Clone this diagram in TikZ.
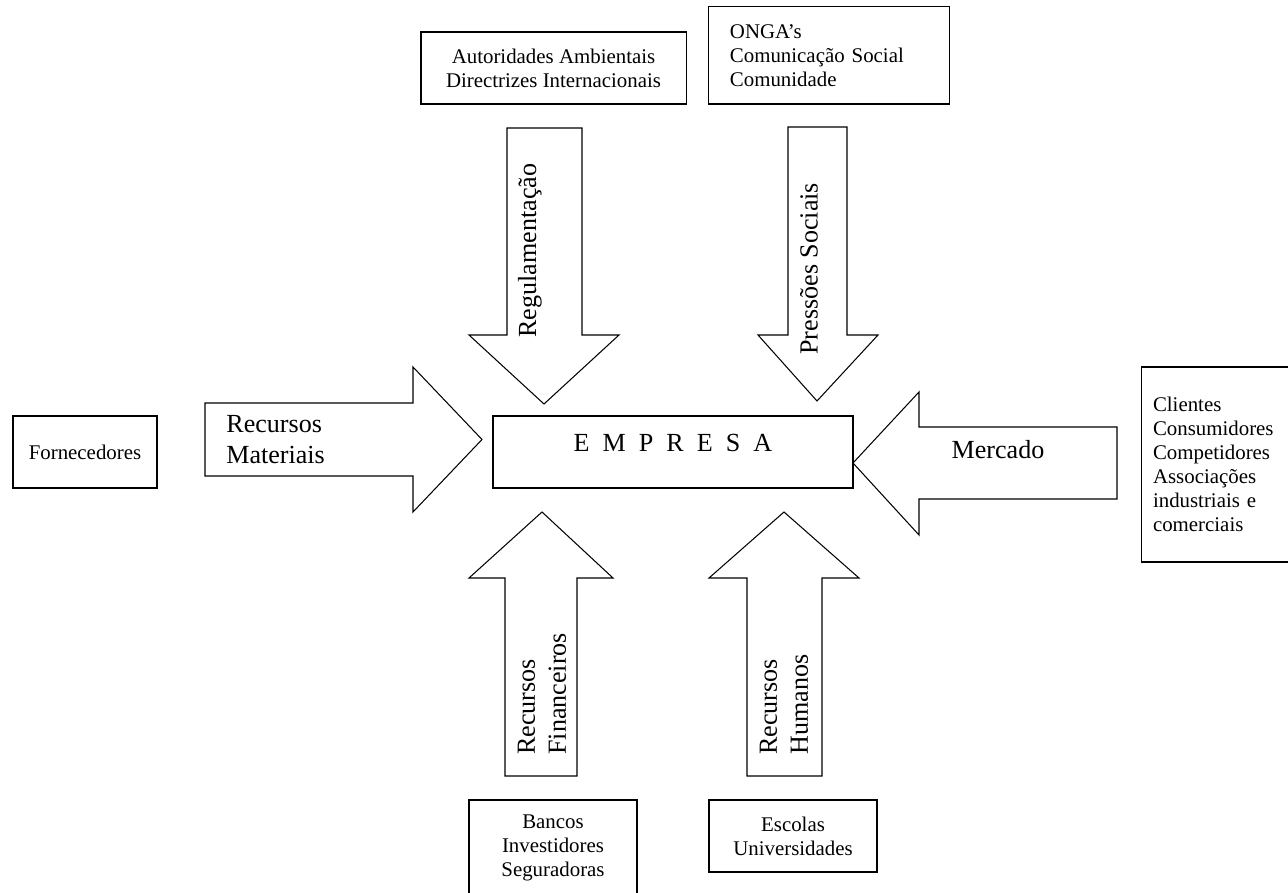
\documentclass[tikz,border=0pt]{standalone}
\usepackage{fontspec}
\setmainfont{Liberation Serif}
\begin{document}
\begin{tikzpicture}[x=0.575pt, y=-0.575pt,
    box/.style={draw, line width=0.6pt, inner sep=0pt, align=center, font=\fontsize{12}{13.8}\selectfont},
    bigarrow/.style={draw, line width=0.6pt, line join=miter},
    lbl/.style={inner sep=0pt, align=left, font=\fontsize{15}{17.8}\selectfont}]
    \useasboundingbox (0,0) rectangle (1288,893);

    % boxes
    \node[box, minimum width=82.8pt, minimum height=41.4pt] (forn) at (85,452) {Fornecedores};
    \node[box, minimum width=152.4pt, minimum height=41.4pt] (autor) at (553.5,68) {Autoridades Ambientais\\Directrizes Internacionais};
    \node[box, minimum width=138pt, minimum height=55.8pt, text width=113.9pt, inner xsep=12.1pt, align=left] (onga) at (829,55.5) {ONGA’s\\Comunicação Social\\Comunidade};
    \node[box, minimum width=88.6pt, minimum height=112.1pt, text width=75.9pt, inner xsep=6.3pt, align=left] (clientes) at (1219,464.5) {Clientes\\Consumidores\\Competidores\\Associações\\industriais e\\comerciais};
    \node[box, minimum width=96.6pt, minimum height=55.2pt] (bancos) at (553,848) {Bancos\\Investidores\\Seguradoras};
    \node[box, minimum width=96.6pt, minimum height=41.4pt] (escolas) at (793,836) {Escolas\\Universidades};

    % empresa
    \node[box, minimum width=207pt, minimum height=41.4pt] (empresa) at (673,452) {};
    \node[lbl] (empresatxt) at (673,443) {E~~M~~P~~R~~E~~S~~A};

    % recursos materiais
    \draw[bigarrow] (205,403) -- (413,403) -- (413,367) -- (482,439.5) -- (413,512) -- (413,476) -- (205,476) -- cycle;
    \node[lbl, anchor=west] (rmat) at (226,440) {Recursos\\Materiais};

    % regulamentacao
    \draw[bigarrow] (507,128) -- (582,128) -- (582,335) -- (619,335) -- (544,404) -- (469,335) -- (507,335) -- cycle;
    \node[lbl, rotate=90, anchor=west] (regul) at (530,338) {Regulamentação};

    % pressoes sociais
    \draw[bigarrow] (788,127) -- (847,127) -- (847,335) -- (878,335) -- (817,401) -- (758,335) -- (788,335) -- cycle;
    \node[lbl, rotate=90, anchor=west] (press) at (809,355) {Pressões Sociais};

    % mercado
    \draw[bigarrow] (1117,427) -- (919,427) -- (919,392) -- (853,463) -- (919,535) -- (919,499) -- (1117,499) -- cycle;
    \node[lbl] (merc) at (998,450) {Mercado};

    % recursos financeiros
    \draw[bigarrow] (505,776) -- (505,578) -- (469,578) -- (542,512) -- (613,578) -- (577,578) -- (577,776) -- cycle;
    \node[lbl, rotate=90, anchor=west] (rfin) at (542,755) {Recursos\\Financeiros};

    % recursos humanos
    \draw[bigarrow] (747,776) -- (747,578) -- (709,578) -- (784,512) -- (859,578) -- (822,578) -- (822,776) -- cycle;
    \node[lbl, rotate=90, anchor=west] (rhum) at (784,755) {Recursos\\Humanos};
\end{tikzpicture}
\end{document}
